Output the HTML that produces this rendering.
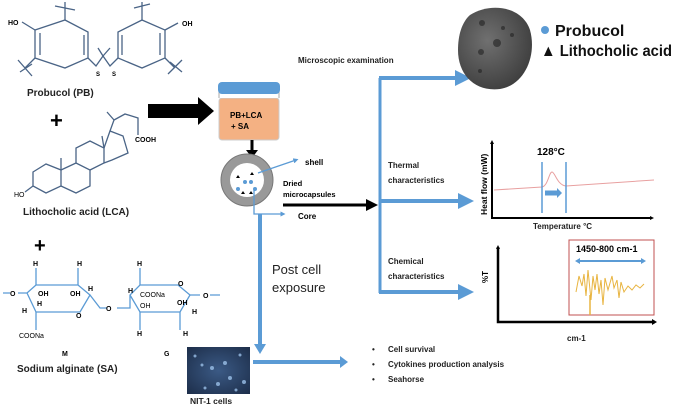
<!DOCTYPE html>
<html><head><meta charset="utf-8"><style>
html,body{margin:0;padding:0;background:#fff;}
svg{display:block;font-family:"Liberation Sans",sans-serif;}
.b{font-weight:bold;}
</style></head><body>
<svg width="674" height="407" viewBox="0 0 674 407" xmlns="http://www.w3.org/2000/svg">
<defs>
<marker id="ab" markerWidth="4" markerHeight="4" refX="2" refY="2" orient="auto"><path d="M0,0 L4,2 L0,4z" fill="#5b9bd5"/></marker>
<marker id="ak" markerWidth="4" markerHeight="4" refX="2" refY="2" orient="auto"><path d="M0,0 L4,2 L0,4z" fill="#000"/></marker>
<radialGradient id="rg" cx="0.4" cy="0.4" r="0.7"><stop offset="0" stop-color="#707070"/><stop offset="1" stop-color="#3a3a3a"/></radialGradient>
<radialGradient id="cg" cx="0.5" cy="0.5" r="0.7"><stop offset="0" stop-color="#3b5a85"/><stop offset="1" stop-color="#1d2e4a"/></radialGradient>
</defs>

<g stroke="#4a6486" stroke-width="1.3" fill="none">
<path d="M35,30 L65,20 L88,32 L88,58 L65,68 L35,58 Z"/>
<path d="M40,33 L40,55 M84,35 L84,55"/>
<path d="M65,20 L65,8 M55,6 L75,10 M65,2 L65,14"/>
<path d="M35,58 L25,68 M18,60 L32,76 M20,72 L32,64"/>
<path d="M35,30 L22,22"/>
<path d="M88,58 L96,66 L103,56 L110,66 L118,58"/>
<path d="M103,56 L98,48 M103,56 L110,48"/>
<path d="M118,58 L118,32 L142,20 L165,30 L165,58 L142,68 Z"/>
<path d="M122,35 L122,55 M160,33 L160,55"/>
<path d="M142,20 L142,6 M134,8 L150,4 M142,2 L142,12"/>
<path d="M165,58 L175,68 M168,74 L182,60 M170,62 L182,72"/>
<path d="M165,30 L178,23"/>
</g>
<text x="8" y="25" font-size="7" class="b">HO</text>
<text x="182" y="26" font-size="7" class="b">OH</text>
<text x="96" y="76" font-size="6" class="b">S</text>
<text x="112" y="76" font-size="6" class="b">S</text>
<text x="27" y="96" font-size="10" class="b" fill="#222">Probucol (PB)</text>
<text x="50" y="128" font-size="22" class="b">+</text>

<g stroke="#4a6486" stroke-width="1.3" fill="none">
<path d="M33,172 L46,164 L61,170 L61,186 L46,193 L33,186 Z"/>
<path d="M61,170 L76,163 L90,170 L90,186 L76,193 L61,186"/>
<path d="M76,163 L76,148 L90,141 L104,148 L104,163 L90,170"/>
<path d="M104,148 L110,131 L123,136 L128,153 L112,160 L104,163"/>
<path d="M61,170 L61,158 M104,148 L102,136"/>
<path d="M110,131 L114,120 L107,112 M114,120 L125,114 L138,118 L138,135"/>
<path d="M33,186 L25,192"/>
</g>
<text x="135" y="142" font-size="7" class="b">COOH</text>
<text x="14" y="197" font-size="7">HO</text>
<text x="23" y="215" font-size="10" class="b" fill="#222">Lithocholic acid (LCA)</text>
<text x="34" y="252" font-size="20" class="b">+</text>

<g stroke="#5b9bd5" stroke-width="1.3" fill="none">
<path d="M3,293 L10,293 M18,293 L27,293 L36,285 L78,285 L90,295 L80,312 L36,312 L27,293"/>
<path d="M36,285 L36,268 M78,285 L78,268 M36,312 L36,330 M90,295 L100,308 L107,308"/>
<path d="M117,308 L130,308 L130,295 L140,285 L178,285 L190,295 L180,312 L140,312 L130,295"/>
<path d="M140,285 L140,268 M140,312 L140,330 M180,312 L180,330 M190,295 L200,295 M210,295 L220,295"/>
</g>
<g font-size="7" class="b">
<text x="10" y="296">O</text><text x="33" y="266">H</text><text x="77" y="266">H</text><text x="137" y="266">H</text>
<text x="38" y="296">OH</text><text x="70" y="296">OH</text><text x="88" y="291">H</text><text x="37" y="306">H</text><text x="22" y="313">H</text>
<text x="76" y="318">O</text><text x="106" y="311">O</text><text x="128" y="293">H</text><text x="178" y="286">O</text>
<text x="177" y="305">OH</text><text x="192" y="314">H</text><text x="137" y="336">H</text><text x="183" y="336">H</text>
<text x="203" y="298">O</text><text x="19" y="338" font-weight="normal">COONa</text>
<text x="140" y="297" font-weight="normal">COONa</text><text x="140" y="308" font-weight="normal">OH</text>
<text x="62" y="356">M</text><text x="164" y="356">G</text>
</g>
<text x="17" y="372" font-size="10" class="b" fill="#222">Sodium alginate (SA)</text>

<path d="M148,104 L198,104 L198,97 L214,111 L198,125 L198,118 L148,118 Z" fill="#000"/>

<rect x="219" y="98" width="60" height="42" rx="3" fill="#f4b183" stroke="#ccc"/>
<path d="M219,98 L219,92 L279,92 L279,98" fill="#fff" stroke="#aaa"/>
<rect x="218" y="82" width="62" height="12" rx="4" fill="#5b9bd5"/>
<text x="230" y="118" font-size="8" class="b">PB+LCA</text>
<text x="231" y="129" font-size="8" class="b">+ SA</text>
<path d="M252,140 L252,150" stroke="#000" stroke-width="3"/>
<path d="M246,150 L258,150 L252,158 Z" fill="#000"/>

<circle cx="247" cy="180" r="26" fill="#999" stroke="#777"/>
<circle cx="247" cy="180" r="17" fill="#fff"/>
<g fill="#5b9bd5"><circle cx="245" cy="182" r="2"/><circle cx="251" cy="182" r="2"/><circle cx="238" cy="189" r="2"/><circle cx="255" cy="189" r="2"/></g>
<g fill="#000"><path d="M236,178 l2,-3 l2,3z"/><path d="M250,175 l2,-3 l2,3z"/><path d="M241,194 l2,-3 l2,3z"/><path d="M249,194 l2,-3 l2,3z"/></g>
<path d="M258,173 L296,160" stroke="#5b9bd5" stroke-width="1.3" marker-end="url(#ab)"/>
<text x="305" y="165" font-size="8" class="b">shell</text>
<path d="M254,190 L254,214 L283,214" stroke="#5b9bd5" stroke-width="1.3" fill="none" marker-end="url(#ab)"/>
<text x="298" y="219" font-size="8" class="b">Core</text>
<text x="283" y="186" font-size="7.5" class="b">Dried</text>
<text x="283" y="197" font-size="7.5" class="b">microcapsules</text>
<path d="M283,205 L372,205" stroke="#000" stroke-width="3" marker-end="url(#ak)"/>

<path d="M380,78 L380,293" stroke="#5b9bd5" stroke-width="3"/>
<path d="M379,78 L463,78" stroke="#5b9bd5" stroke-width="4" marker-end="url(#ab)"/>
<path d="M379,201 L466,201" stroke="#5b9bd5" stroke-width="4" marker-end="url(#ab)"/>
<path d="M379,292 L466,292" stroke="#5b9bd5" stroke-width="4" marker-end="url(#ab)"/>
<text x="298" y="63" font-size="8" class="b" fill="#222">Microscopic examination</text>
<text x="388" y="168" font-size="8" class="b" fill="#222">Thermal</text>
<text x="388" y="183" font-size="8" class="b" fill="#222">characteristics</text>
<text x="388" y="264" font-size="8" class="b" fill="#222">Chemical</text>
<text x="388" y="279" font-size="8" class="b" fill="#222">characteristics</text>

<path d="M470,15 C490,2 522,6 530,30 C537,55 525,85 500,89 C475,92 458,75 458,50 C458,35 462,22 470,15 Z" fill="url(#rg)"/>
<g fill="#222" opacity="0.6"><circle cx="482" cy="23" r="3"/><circle cx="497" cy="43" r="4"/><circle cx="481" cy="52" r="3"/><circle cx="512" cy="35" r="2"/><circle cx="480" cy="71" r="2"/><circle cx="503" cy="28" r="2"/></g>
<circle cx="545" cy="30" r="4" fill="#5b9bd5"/>
<text x="555" y="36" font-size="16" class="b" fill="#111">Probucol</text>
<text x="541" y="56" font-size="16" class="b" fill="#111" textLength="131" lengthAdjust="spacingAndGlyphs">▲ Lithocholic acid</text>

<path d="M492,142 L492,218 L652,218" stroke="#000" stroke-width="2" fill="none"/>
<path d="M654,218 l-4,-2 l0,4z M492,140 l-2,4 l4,0z" fill="#000"/>
<text transform="translate(487,215) rotate(-90)" font-size="8.5" class="b">Heat flow (mW)</text>
<path d="M494,190 L542,187 C548,186 549,172 552,172 C555,172 557,185 566,186 L654,180" stroke="#e8a0a0" stroke-width="1" fill="none"/>
<path d="M542,162 L542,213 M566,162 L566,213" stroke="#5b9bd5" stroke-width="1.5"/>
<path d="M545,193 L557,193" stroke="#5b9bd5" stroke-width="5"/><path d="M557,188 L562,193 L557,198z" fill="#5b9bd5"/>
<text x="537" y="155" font-size="10" class="b">128°C</text>
<text x="533" y="229" font-size="8" class="b" fill="#222">Temperature °C</text>

<path d="M498,247 L498,322 L655,322" stroke="#000" stroke-width="2.5" fill="none"/>
<path d="M657,322 l-5,-3 l0,6z M498,245 l-2,4 l4,0z" fill="#000"/>
<text transform="translate(488,283) rotate(-90)" font-size="8" class="b">%T</text>
<rect x="569" y="240" width="85" height="75" fill="#fff" stroke="#c05050" stroke-width="1"/>
<text x="576" y="252" font-size="9" class="b">1450-800 cm-1</text>
<path d="M578,261 L643,261" stroke="#5b9bd5" stroke-width="2"/>
<path d="M575,261 l5,-3 l0,6z M646,261 l-5,-3 l0,6z" fill="#5b9bd5"/>
<path d="M576,292 L579,276 L582,286 L584,274 L586,296 L588,270 L591,300 L593,276 L595,290 L597,274 L599,294 L601,280 L603,305 L605,278 L608,290 L612,276 L614,288 L617,280 L619,298 L621,282 L624,292 L628,286 L632,290 L636,285 L640,288 L644,284" stroke="#e8b440" stroke-width="1" fill="none"/>
<path d="M590,295 L590,315" stroke="#e8b440" stroke-width="1.5"/>
<text x="567" y="341" font-size="8" class="b" fill="#222">cm-1</text>

<path d="M260,214 L260,345" stroke="#5b9bd5" stroke-width="4"/>
<path d="M254,344 L266,344 L260,354z" fill="#5b9bd5"/>
<text x="272" y="274" font-size="13" fill="#222">Post cell</text>
<text x="272" y="292" font-size="13" fill="#222">exposure</text>
<rect x="187" y="347" width="63" height="47" fill="url(#cg)"/>
<g fill="#9bc0e8" opacity="0.8"><circle cx="195" cy="356" r="1.5"/><circle cx="202" cy="365" r="1.5"/><circle cx="212" cy="368" r="2"/><circle cx="225" cy="363" r="2"/><circle cx="240" cy="355" r="1.5"/><circle cx="230" cy="378" r="2"/><circle cx="218" cy="384" r="2"/><circle cx="244" cy="382" r="2"/><circle cx="236" cy="390" r="1.5"/><circle cx="205" cy="388" r="1.5"/></g>
<text x="190" y="404" font-size="8.5" class="b" fill="#222">NIT-1 cells</text>
<path d="M253,362 L340,362" stroke="#5b9bd5" stroke-width="4"/>
<path d="M340,356 L348,362 L340,368z" fill="#5b9bd5"/>
<g font-size="8" class="b" fill="#222">
<text x="372" y="352">•</text><text x="388" y="352">Cell survival</text>
<text x="372" y="367">•</text><text x="388" y="367">Cytokines production analysis</text>
<text x="372" y="382">•</text><text x="388" y="382">Seahorse</text>
</g>
</svg>
</body></html>
